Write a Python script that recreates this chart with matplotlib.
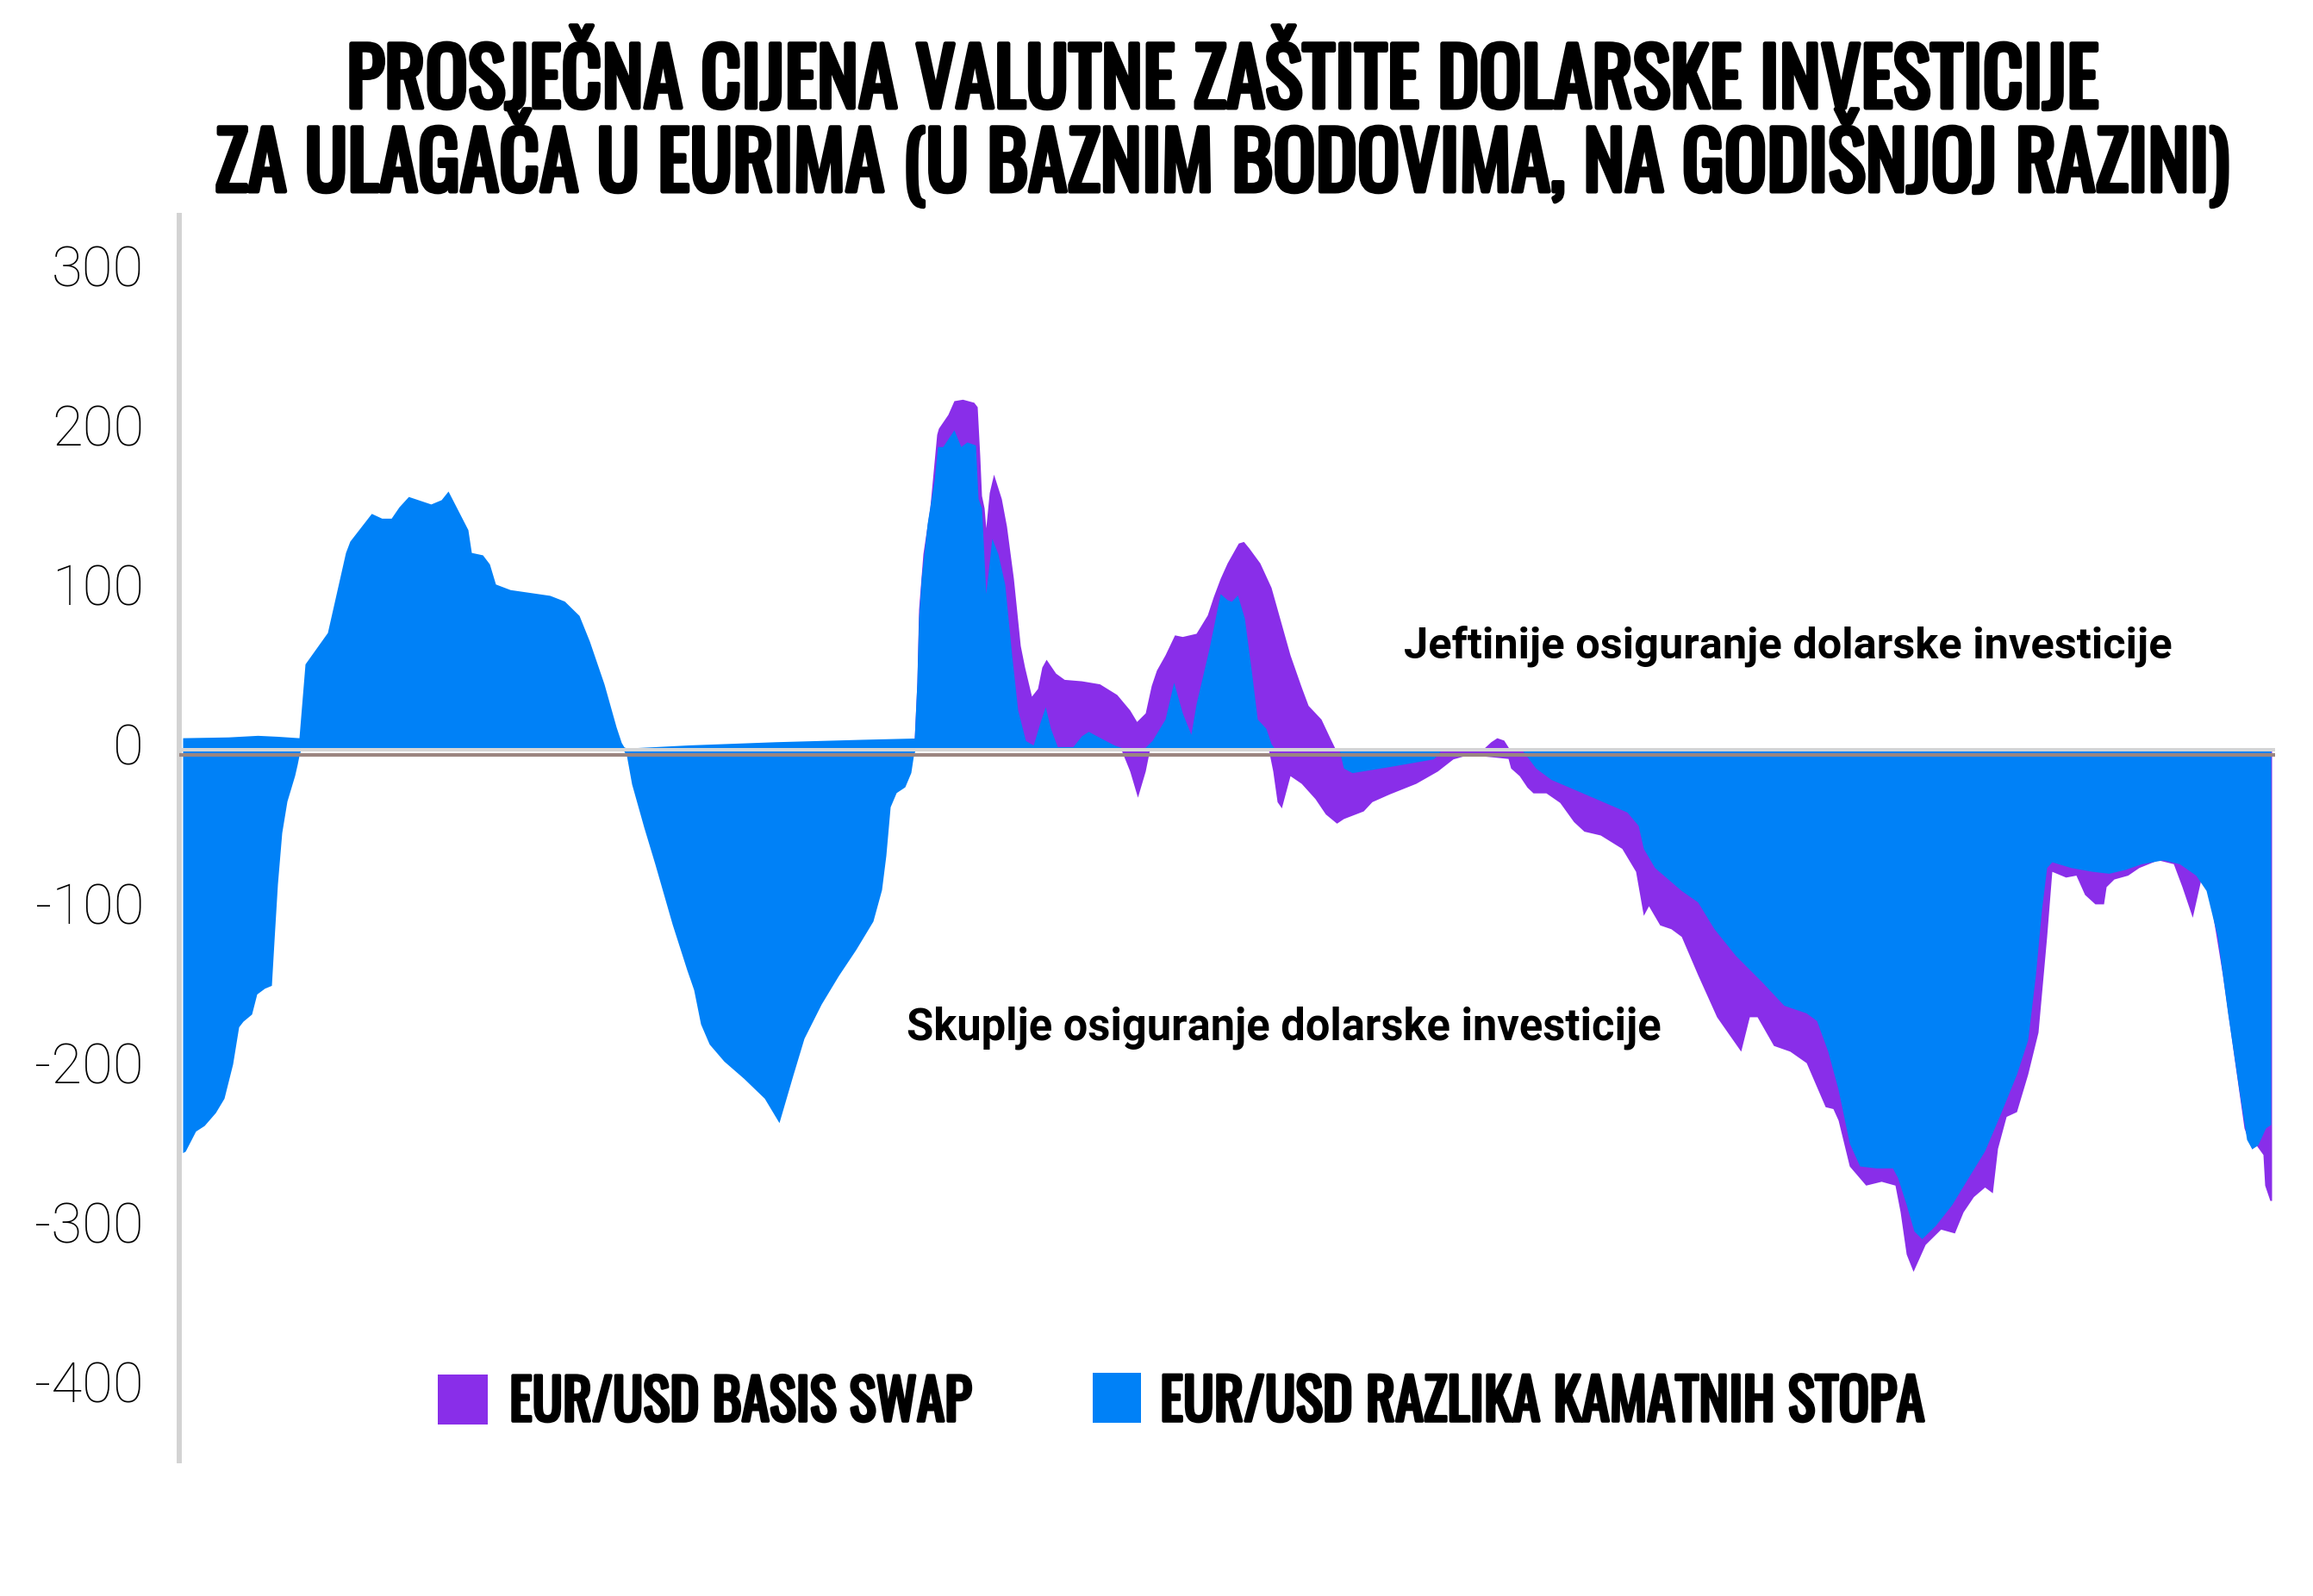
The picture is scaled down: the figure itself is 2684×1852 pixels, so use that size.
import matplotlib
matplotlib.use("Agg")
import matplotlib.pyplot as plt
from matplotlib import font_manager
from matplotlib import patheffects
from matplotlib.patches import Rectangle
from matplotlib.transforms import ScaledTranslation

# (period, bps); period is a plain time index
rate_pos = [(0.0, 7.5), (5.3, 8), (8.7, 9), (11.0, 8.4), (13.5, 7.5), (14.2, 53.8), (16.8, 73.5),
            (18.9, 123.7), (19.4, 130.8), (21.9, 148.2), (23.1, 145.2), (24.2, 145.2), (25.1, 152.3),
            (26.2, 158.8), (28.8, 154.1), (30.0, 156.8), (30.8, 162.2), (33.1, 138), (33.5, 123.7),
            (34.8, 122.2), (35.6, 116.5), (36.3, 103.9), (38.0, 100.4), (42.6, 96.8), (44.3, 93.2),
            (46.0, 84.2), (47.2, 68.1), (48.9, 41.2), (50.3, 14.3), (50.9, 4.5), (51.2, 1.8), (51.5, 1.0),
            (58.8, 3.0), (68.8, 5.0), (78.8, 6.5), (84.9, 7.3), (85.2, 42.3), (85.4, 82.6), (85.7, 107.5),
            (86.4, 142.1), (87.2, 169), (87.6, 190.1), (88.2, 190.1), (89.5, 200.6), (90.3, 190.1),
            (91.0, 193), (92.0, 191.1), (92.3, 157.5), (92.7, 151.7), (93.2, 97.9), (93.9, 132.5),
            (94.6, 122.9), (95.4, 103.7), (96.2, 59.5), (96.9, 24.9), (97.8, 5.8), (98.7, 2.9),
            (99.5, 17.3), (100.1, 26.9), (100.7, 13.4), (101.5, 1.9), (103.3, 1.9), (104.3, 8.7),
            (105.1, 11.5), (106.4, 7.7), (108.1, 2.9), (109.4, 0.5), (111.5, 0.5), (112.5, 5.8),
            (114.0, 19.2), (115.0, 42.3), (116.0, 23.1), (117.0, 9.6), (117.6, 28.8), (119.1, 63.4),
            (120.4, 97.9), (121.2, 94.1), (121.7, 93.1), (122.4, 97), (123.2, 82.6), (124.0, 49.9),
            (124.7, 19.2), (125.7, 13.4), (126.3, 3.8), (126.8, 0), (242.4, 0)]

rate_neg = [(0.0, -252.7), (0.3, -251.8), (1.5, -239.2), (2.5, -235.7), (3.8, -227.6), (4.8, -218.6),
            (5.8, -197.1), (6.5, -173.8), (7.0, -170.3), (8.0, -165.8), (8.6, -153.2), (9.5, -149.6),
            (10.3, -147.8), (10.6, -120), (11.0, -84.2), (11.5, -52), (12.1, -32.3), (13.0, -16.1),
            (13.3, -9), (13.5, -3.6), (13.7, 0), (51.1, 0), (51.5, -3.6), (52.1, -21.5), (53.5, -48.4),
            (54.8, -71.7), (56.8, -109.3), (58.5, -138), (59.3, -150.5), (60.1, -172), (61.1, -184.6),
            (62.8, -195.3), (65.1, -206.1), (67.5, -218.6), (69.2, -233.9), (70.8, -204.3), (72.1, -181),
            (74.1, -159.5), (76.1, -141.6), (78.1, -125.4), (80.1, -107.5), (81.1, -87.8), (81.6, -66.3),
            (82.1, -35.8), (82.8, -26.9), (83.8, -23.3), (84.5, -14.3), (84.8, -3.6), (85.0, 0),
            (134.2, 0), (134.7, -11.5), (135.7, -14.4), (140.0, -10.6), (145.1, -5.8), (145.6, -3.4),
            (146.0, 0), (155.4, 0), (157.0, -11.5), (158.8, -18.7), (161.4, -24.7), (164.5, -31.9),
            (167.6, -39.1), (168.9, -47.5), (169.5, -61.9), (170.8, -73.9), (173.9, -88.3), (175.8, -95.5),
            (177.7, -112.3), (180.2, -129.1), (183.3, -145.9), (185.8, -160.3), (188.4, -165.1),
            (189.6, -169.9), (190.9, -189.1), (192.1, -213.1), (193.4, -246.7), (194.6, -261.1),
            (196.5, -262.3), (198.4, -262.3), (199.0, -268.3), (200.0, -285.2), (200.9, -301.9),
            (201.8, -306.7), (203.4, -298.3), (205.3, -285.2), (207.2, -268.3), (209.1, -251.6),
            (210.9, -228.7), (212.8, -203.5), (214.1, -181.9), (215.0, -141.1), (215.7, -100.3),
            (216.3, -73.9), (216.9, -70.3), (219.1, -73.9), (221.6, -76.3), (223.5, -77.5), (225.4, -75.1),
            (227.3, -71.5), (229.8, -69.1), (231.7, -71.5), (233.6, -78.7), (234.8, -88.3), (236.1, -117.1),
            (237.3, -165.1), (238.6, -213.1), (239.5, -244.4), (240.1, -250.3), (240.8, -247.9),
            (241.7, -237.2), (242.3, -235)]

# rate differential + basis swap, only where the swap shows beyond the rate area
total_pos = [(84.9, 7.3), (85.2, 42.3), (85.4, 88.3), (85.9, 122.9), (86.7, 151.7), (87.2, 180.5),
             (87.5, 197.8), (87.7, 201.6), (88.8, 210.3), (89.5, 218.9), (90.5, 219.8), (91.8, 217.9),
             (92.2, 215.1), (92.5, 184.3), (92.7, 159.4), (93.0, 151.7), (93.2, 139.2), (93.6, 161.3),
             (94.1, 172.8), (95.0, 157.5), (95.6, 140.2), (96.4, 107.5), (97.2, 65.3), (97.7, 51.8),
             (98.5, 33.6), (99.2, 38.4), (99.7, 51.8), (100.2, 56.7), (101.3, 48), (102.3, 44.1),
             (104.3, 43.2), (106.4, 41.3), (108.4, 34.6), (109.9, 24.9), (110.7, 17.7), (111.7, 23.1),
             (112.4, 40.3), (113.0, 49.9), (114.0, 59.5), (115.1, 72), (116.0, 71), (117.6, 73),
             (118.9, 84.5), (119.6, 96), (120.4, 107.5), (121.2, 117.1), (122.5, 129.6), (123.1, 130.6),
             (123.7, 126.7), (125.0, 117.1), (126.3, 101.8), (127.5, 78.7), (128.5, 59.5), (129.8, 39.4),
             (130.6, 27.8), (132.1, 19.2), (133.1, 7.7), (133.7, 1), (134.0, 0), (150.8, 0), (151.8, 5),
             (152.5, 7.5), (153.3, 6), (154.0, 0)]

total_neg = [(108.9, 0), (109.9, -13.4), (110.8, -29.8), (111.7, -13.4), (112.2, 0), (126.0, 0),
             (126.5, -13.4), (127.0, -32.6), (127.5, -36.5), (128.5, -16.3), (129.8, -21.1), (131.4, -30.7),
             (132.6, -40.3), (133.9, -46.1), (134.7, -43.2), (137.0, -38.4), (138.0, -32.6), (140.0, -27.8),
             (143.1, -21.1), (145.6, -13.4), (147.4, -5.8), (149.2, -3), (153.8, -5.5), (154.1, -11.5),
             (155.1, -16.3), (156.0, -23.5), (156.7, -27.1), (158.2, -27.1), (159.8, -33.1), (161.4, -45.1),
             (162.6, -51.1), (164.5, -53.5), (167.0, -61.9), (168.6, -76.3), (169.5, -103.9), (170.1, -97.9),
             (171.4, -109.9), (172.7, -112.3), (173.9, -117.1), (175.8, -141.1), (178.0, -167.5),
             (180.8, -189.1), (181.8, -167.5), (182.7, -167.5), (184.6, -185.5), (186.5, -189.1),
             (188.4, -196.3), (190.6, -223.9), (191.5, -225.1), (192.1, -232.3), (193.4, -261.1),
             (195.3, -273.1), (197.1, -270.7), (198.7, -273.1), (199.3, -289.9), (200.0, -316.3),
             (200.8, -327.2), (201.5, -318.8), (202.2, -310.3), (204.0, -300.7), (205.6, -303.1),
             (206.6, -289.9), (207.8, -280.3), (209.1, -274.3), (210.0, -277.9), (210.6, -250),
             (211.6, -230), (212.8, -227), (214.1, -203.5), (215.3, -177.1), (216.3, -117.1), (216.9, -76.3),
             (218.5, -79.9), (219.7, -78.7), (220.7, -90.8), (221.9, -96.7), (222.9, -96.7), (223.2, -85.9),
             (224.1, -81.1), (225.7, -78.7), (227.0, -73.9), (229.2, -69.1), (231.0, -71.5), (232.0, -85.9),
             (233.2, -105.1), (234.2, -81.1), (235.1, -88.3), (236.7, -141.1), (239.2, -237.2),
             (240.1, -250.3), (240.6, -247.9), (241.4, -253.9), (241.6, -273.1), (242.2, -282.7),
             (242.4, -282.7)]

y_ticks = [300, 200, 100, 0, -100, -200, -300, -400]

title_lines = ["PROSJEČNA CIJENA VALUTNE ZAŠTITE DOLARSKE INVESTICIJE",
               "ZA ULAGAČA U EURIMA (U BAZNIM BODOVIMA, NA GODIŠNJOJ RAZINI)"]
legend_labels = ["EUR/USD BASIS SWAP", "EUR/USD RAZLIKA KAMATNIH STOPA"]
note_up = "Jeftinije osiguranje dolarske investicije"
note_down = "Skuplje osiguranje dolarske investicije"

PURPLE = "#892ee9"
BLUE = "#0081f7"
W, H = 2684, 1852


def condensed_font():
    names = {f.name for f in font_manager.fontManager.ttflist}
    for fam in ["Oswald", "Bebas Neue", "Roboto Condensed", "Liberation Sans Narrow",
                "Open Sans Condensed", "Arial Narrow"]:
        if fam in names:
            return {"family": fam}
    for f in font_manager.fontManager.ttflist:
        if f.name == "DejaVu Sans" and f.stretch == "condensed":
            return {"family": "DejaVu Sans", "stretch": "condensed"}
    return {"family": "DejaVu Sans"}


def has_bold(fam):
    for f in font_manager.fontManager.ttflist:
        if f.name != fam:
            continue
        w = f.weight
        if isinstance(w, str):
            w = font_manager.weight_dict.get(w, 400)
        if w >= 600:
            return True
    return False


def fx(px):
    return px / W


def fy(py):
    return 1 - py / H


plt.rcParams["axes.unicode_minus"] = False
fig = plt.figure(figsize=(W / 100, H / 100), dpi=100)
ax = fig.add_axes([fx(208), fy(1695), fx(2640) - fx(208), (1695 - 250) / H])

# areas: swap total behind, rate differential in front
for series, color in [(total_pos, PURPLE), (total_neg, PURPLE), (rate_pos, BLUE), (rate_neg, BLUE)]:
    t, v = zip(*series)
    ax.fill_between(t, 0, v, color=color, linewidth=0)

ax.axhline(-3, color="#9b8580", linewidth=3.0, zorder=3)
ax.axhline(0, color="#d5d5d5", linewidth=2.9, zorder=4)

ax.set_xlim(-0.4, 242.8)
ax.set_ylim(-445.9, 335.1)
for side in ["top", "right", "bottom"]:
    ax.spines[side].set_visible(False)
ax.spines["left"].set_color("#d3d3d3")
ax.spines["left"].set_linewidth(4.3)
ax.set_xticks([])
ax.set_yticks(y_ticks)
ax.set_yticklabels([str(v) for v in y_ticks])
ax.tick_params(axis="y", length=0, pad=29.5, labelsize=47)
for lab in ax.get_yticklabels():
    lab.set_family("Roboto")
    lab.set_fontweight("light")
    lab.set_transform(lab.get_transform() + ScaledTranslation(0, 7 / 100, fig.dpi_scale_trans))

renderer = fig.canvas.get_renderer()


def fit_width(txt, width_px):
    w = txt.get_window_extent(renderer=renderer).width
    txt.set_fontsize(txt.get_fontsize() * width_px / w)


cfont = condensed_font()
# thicken the condensed face when no bold cut is installed
if has_bold(cfont["family"]):
    heavy_big, heavy_small = [], []
else:
    heavy_big = [patheffects.withStroke(linewidth=3.6, foreground="black")]
    heavy_small = [patheffects.withStroke(linewidth=2.6, foreground="black")]

# two-line title as one text; line gap and first baseline tuned to the reference
title = fig.text(fx(1418), fy(60), "\n".join(title_lines), ha="center", va="top",
                 multialignment="center", linespacing=1.0, fontweight="bold", fontsize=60,
                 path_effects=heavy_big, **cfont)
fit_width(title, 2338)


def baselines(ls):
    title.set_linespacing(ls)
    _, info, _ = title._get_layout(renderer)
    return info[0][3], info[1][3]


b1, b2 = baselines(1.0)
c1, c2 = baselines(1.3)
g1, g2 = b1 - b2, c1 - c2
ls = 1.0 if abs(g2 - g1) < 1e-6 else 1.0 + (97 - g1) * 0.3 / (g2 - g1)
b1, _ = baselines(ls)
pos_y = fig.transFigure.transform(title.get_position())[1]
title.set_y(title.get_position()[1] + ((H - 125) - (pos_y + b1)) / H)

# legend
fig.add_artist(Rectangle((fx(508), fy(1653)), 58 / W, 58 / H, transform=fig.transFigure,
                         color=PURPLE, linewidth=0))
fig.add_artist(Rectangle((fx(1268), fy(1651)), 56 / W, 58 / H, transform=fig.transFigure,
                         color=BLUE, linewidth=0))
l1 = fig.text(fx(591), fy(1649), legend_labels[0], ha="left", va="baseline",
              fontweight="bold", fontsize=40, path_effects=heavy_small, **cfont)
fit_width(l1, 536)
l2 = fig.text(fx(1346), fy(1649), legend_labels[1], ha="left", va="baseline",
              fontweight="bold", fontsize=40, path_effects=heavy_small, **cfont)
fit_width(l2, 887)

# annotations
n1 = fig.text(fx(1629), fy(763), note_up, ha="left", va="baseline",
              family="Roboto", fontweight="bold", fontsize=38)
fit_width(n1, 891)
n2 = fig.text(fx(1052), fy(1207), note_down, ha="left", va="baseline",
              family="Roboto", fontweight="bold", fontsize=38)
fit_width(n2, 875)

fig.savefig("out.png", dpi=100, facecolor="white")
